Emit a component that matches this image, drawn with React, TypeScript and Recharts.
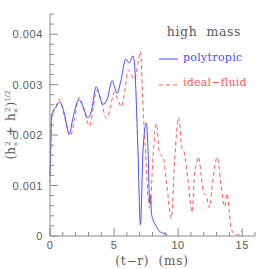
import React from 'react'
import { LineChart, Line, XAxis, YAxis } from 'recharts'

// time after retarded time (ms) and amplitude for the two EOS runs
const polyT = [0, 0.05, 0.12, 0.23, 0.45, 0.75, 1.1, 1.5, 1.8, 2.23, 2.6, 2.96, 3.25, 3.6, 3.85, 4.12, 4.45, 4.85, 5.05, 5.24, 5.55, 5.91, 6.17, 6.48, 6.61, 6.85, 7.06, 7.26, 7.52, 7.65, 7.78, 7.85, 7.92, 8.04, 8.3, 8.5, 8.7, 9.0, 9.15]
const polyH = [0.00118, 0.0017, 0.00235, 0.00247, 0.00255, 0.00266, 0.00245, 0.00202, 0.00235, 0.0027, 0.00255, 0.00234, 0.0025, 0.00296, 0.0028, 0.00261, 0.0027, 0.00308, 0.00295, 0.00283, 0.0031, 0.00351, 0.00343, 0.00357, 0.00336, 0.0018, 0.00022, 0.0017, 0.00224, 0.0017, 0.00065, 0.0008, 0.00045, 0.00032, 0.00019, 0.0001, 0.00007, 0.00004, 0.00002]

const fluidT = [0, 0.05, 0.12, 0.22, 0.45, 0.73, 1.1, 1.6, 1.9, 2.28, 2.7, 3.09, 3.35, 3.63, 3.9, 4.41, 4.7, 5.03, 5.3, 5.58, 5.85, 6.1, 6.35, 6.6, 6.85, 7.06, 7.26, 7.52, 7.65, 7.8, 8.04, 8.3, 8.56, 8.82, 9.1, 9.47, 9.73, 10.04, 10.3, 10.43, 10.77, 11.1, 11.28, 11.41, 11.6, 11.8, 12.0, 12.2, 12.45, 12.71, 13.05, 13.36, 13.62, 13.83, 14.0, 14.14, 14.4, 14.79, 14.92]
const fluidH = [0.00105, 0.0016, 0.0023, 0.00242, 0.00255, 0.00271, 0.0024, 0.00198, 0.0023, 0.00275, 0.00245, 0.00218, 0.0025, 0.00289, 0.00276, 0.00233, 0.00255, 0.00285, 0.0027, 0.00256, 0.0029, 0.00329, 0.0032, 0.0031, 0.0034, 0.00366, 0.00257, 0.00138, 0.00078, 0.00055, 0.00157, 0.00223, 0.00162, 0.00157, 0.00105, 0.00035, 0.00151, 0.00235, 0.00174, 0.0017, 0.00111, 0.00047, 0.00125, 0.0014, 0.00157, 0.0012, 0.00085, 0.0008, 0.00056, 0.00111, 0.00156, 0.00098, 0.00058, 0.00084, 0.00045, 0.00015, 0.00004, 0.00002, 0.0001]

const xTicks = [0, 1, 2, 3, 4, 5, 6, 7, 8, 9, 10, 11, 12, 13, 14, 15, 16]
const xLabels = [0, 5, 10, 15]
const yTicks = [0, 0.0002, 0.0004, 0.0006, 0.0008, 0.001, 0.0012, 0.0014, 0.0016, 0.0018, 0.002, 0.0022, 0.0024, 0.0026, 0.0028, 0.003, 0.0032, 0.0034, 0.0036, 0.0038, 0.004, 0.0042, 0.0044]
const yLabels = [0, 0.001, 0.002, 0.003, 0.004]

const polyData = polyT.map((t, i) => ({ t, h: polyH[i] }))
const fluidData = fluidT.map((t, i) => ({ t, h: fluidH[i] }))

const AXIS = '#8a8a8a'
const TEXT = '#5a5a5a'
const BLUE = '#4d4dff'
const RED = '#ff5a5a'
const SERIF = '"DejaVu Serif", serif'
const SANS = '"Liberation Sans", sans-serif'
const NB = '\u00a0'

const isLabel = (list: number[], v: number) => list.some(l => Math.abs(l - v) < 1e-9)

// ticks point into the plot, so draw them ourselves
const makeXTick = (dir: number, showLabel: boolean) => (props: any) => {
  const { x, y, payload } = props
  const major = isLabel(xLabels, payload.value)
  return (
    <g>
      <line x1={x} x2={x} y1={y} y2={y - dir * (major ? 8 : 4)} stroke={AXIS} />
      {showLabel && major && (
        <text x={x} y={y + 13} textAnchor="middle" fontSize={11} fontFamily={SANS} fill={TEXT} letterSpacing={0.6}>
          {payload.value}
        </text>
      )}
    </g>
  )
}

const makeYTick = (dir: number, showLabel: boolean) => (props: any) => {
  const { x, y, payload } = props
  const major = isLabel(yLabels, payload.value)
  return (
    <g>
      <line x1={x} x2={x + dir * (major ? 8 : 4)} y1={y} y2={y} stroke={AXIS} />
      {showLabel && major && (
        <text x={x - 7} y={y + 4} textAnchor="end" fontSize={11} fontFamily={SANS} fill={TEXT} letterSpacing={0.6}>
          {payload.value === 0 ? '0' : payload.value.toFixed(3)}
        </text>
      )}
    </g>
  )
}

export default function App() {
  return (
    <div style={{ position: 'absolute', left: 0, top: 0 }}>
      <LineChart width={269} height={269} margin={{ top: 14, right: 14, bottom: 0, left: 0 }}>
        <XAxis
          xAxisId="b"
          type="number"
          dataKey="t"
          domain={[0, 16]}
          ticks={xTicks}
          interval={0}
          height={33}
          stroke={AXIS}
          tickLine={false}
          tickSize={0}
          tickMargin={0}
          tick={makeXTick(1, true)}
        />
        <XAxis
          xAxisId="t"
          orientation="top"
          type="number"
          dataKey="t"
          domain={[0, 16]}
          ticks={xTicks}
          interval={0}
          height={0}
          stroke={AXIS}
          tickLine={false}
          tickSize={0}
          tickMargin={0}
          tick={makeXTick(-1, false)}
        />
        <YAxis
          yAxisId="l"
          type="number"
          domain={[0, 0.0044]}
          ticks={yTicks}
          interval={0}
          width={50}
          stroke={AXIS}
          tickLine={false}
          tickSize={0}
          tickMargin={0}
          tick={makeYTick(1, true)}
        />
        <YAxis
          yAxisId="r"
          orientation="right"
          type="number"
          domain={[0, 0.0044]}
          ticks={yTicks}
          interval={0}
          width={0}
          stroke={AXIS}
          tickLine={false}
          tickSize={0}
          tickMargin={0}
          tick={makeYTick(-1, false)}
        />
        <Line
          xAxisId="b"
          yAxisId="l"
          data={fluidData}
          dataKey="h"
          type="monotone"
          stroke={RED}
          strokeWidth={1}
          strokeDasharray="4 3"
          dot={false}
          isAnimationActive={false}
        />
        <Line
          xAxisId="b"
          yAxisId="l"
          data={polyData}
          dataKey="h"
          type="monotone"
          stroke={BLUE}
          strokeWidth={1}
          dot={false}
          isAnimationActive={false}
        />

        <text x={241} y={36} textAnchor="end" fontSize={12.5} fontFamily={SERIF} fill={TEXT} letterSpacing={0.6}>
          {`high${NB}${NB}mass`}
        </text>
        <line x1={159} x2={178} y1={59} y2={59} stroke={BLUE} />
        <text x={183} y={61} fontSize={11} fontFamily={SERIF} fill={BLUE} letterSpacing={0.3}>
          polytropic
        </text>
        <line x1={159} x2={178} y1={85} y2={85} stroke={RED} strokeDasharray="4 3" />
        <text x={183} y={86} fontSize={11} fontFamily={SERIF} fill={RED} letterSpacing={0.2}>
          ideal−fluid
        </text>

        <text x={152} y={265} textAnchor="middle" fontSize={12} fontFamily={SERIF} fill={TEXT} letterSpacing={0.8}>
          {`(t−r)${NB}${NB}(ms)`}
        </text>
        <text transform="translate(15,125) rotate(-90)" textAnchor="middle" fontSize={12} fontFamily={SERIF} fill={TEXT}>
          <tspan>(h</tspan>
          <tspan fontSize={7} dy={3}>+</tspan>
          <tspan fontSize={7} dx={-4.5} dy={-8}>2</tspan>
          <tspan dx={5} dy={5}>+</tspan>
          <tspan dx={5}>h</tspan>
          <tspan fontSize={7} dy={3}>×</tspan>
          <tspan fontSize={7} dx={-4.5} dy={-8}>2</tspan>
          <tspan dx={1} dy={5}>)</tspan>
          <tspan fontSize={7} dy={-5}>1/2</tspan>
        </text>
      </LineChart>
    </div>
  )
}
